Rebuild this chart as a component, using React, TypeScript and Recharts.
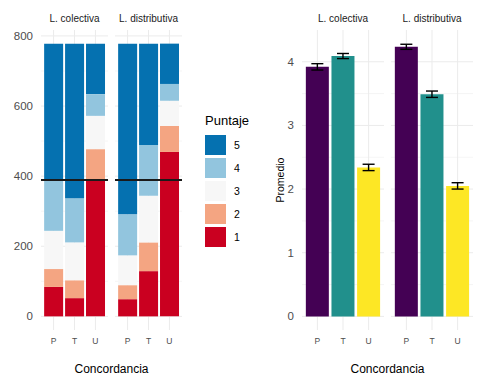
import React from 'react'
import { BarChart, Bar, XAxis, YAxis, CartesianGrid, ReferenceLine, ErrorBar, Cell } from 'recharts'

const FACETS = ['L. colectiva', 'L. distributiva']
const CATEGORIES = ['P', 'T', 'U']
const SCORES = ['1', '2', '3', '4', '5']
const SCORE_COLORS = ['#ca0020', '#f4a582', '#f7f7f7', '#92c5de', '#0571b0']

// counts per score (1..5), each as [P, T, U]
const COLECTIVA_COUNTS = [
  [84, 52, 389],
  [51, 51, 88],
  [109, 108, 95],
  [143, 126, 62],
  [391, 441, 144],
]
const DISTRIBUTIVA_COUNTS = [
  [49, 129, 469],
  [40, 82, 74],
  [85, 133, 72],
  [117, 145, 48],
  [487, 289, 115],
]
const MIDPOINT = 389

const COLECTIVA_MEAN = [3.92, 4.09, 2.34]
const COLECTIVA_ERR = [0.05, 0.04, 0.05]
const DISTRIBUTIVA_MEAN = [4.235, 3.49, 2.05]
const DISTRIBUTIVA_ERR = [0.04, 0.05, 0.05]
const MEAN_COLORS = ['#440154', '#21908c', '#fde725']

const X_TICKS = [1, 2, 3]
const X_DOMAIN = [0.4, 3.6]
const COUNT_TICKS = [0, 200, 400, 600, 800]
const COUNT_MINOR = [100, 300, 500, 700]
const MEAN_TICKS = [0, 1, 2, 3, 4]
const MEAN_MINOR = [0.5, 1.5, 2.5, 3.5]

const FONT = '"Liberation Sans", Arial, sans-serif'
const GRID = '#ebebeb'
const AXIS_TEXT = '#4d4d4d'

const countRows = (counts: number[][]) =>
  CATEGORIES.map((cat, i) => {
    const row: Record<string, number | string> = { x: X_TICKS[i], cat }
    SCORES.forEach((s, k) => (row['s' + s] = counts[k][i]))
    return row
  })

const meanRows = (means: number[], errs: number[]) =>
  CATEGORIES.map((cat, i) => ({ x: X_TICKS[i], cat, mean: means[i], err: errs[i] }))

const xAxis = (
  <XAxis
    type="number"
    dataKey="x"
    domain={X_DOMAIN}
    ticks={X_TICKS}
    interval={0}
    tickFormatter={(v: number) => CATEGORIES[v - 1]}
    axisLine={false}
    tickLine={false}
    height={54}
    tick={{ fontSize: 8.5, fill: AXIS_TEXT, fontFamily: FONT }}
  />
)

// vertical grid only at category centres, no panel edges
const centreLines = ({ offset }: any) =>
  X_TICKS.map((v) => offset.left + ((v - X_DOMAIN[0]) / (X_DOMAIN[1] - X_DOMAIN[0])) * offset.width)

function grids(minor: number[], major: number[]) {
  return [
    <CartesianGrid key="minor" vertical={false} horizontalValues={minor} stroke={GRID} strokeWidth={0.5} />,
    <CartesianGrid key="major" vertical={false} horizontalValues={major} stroke={GRID} strokeWidth={1} />,
    <CartesianGrid key="vert" horizontal={false} verticalCoordinatesGenerator={centreLines} stroke={GRID} strokeWidth={1} />,
  ]
}

function CountFacet({ counts, showAxis, width }: { counts: number[][]; showAxis: boolean; width: number }) {
  const domain = [-38.9, 816.9]
  return (
    <BarChart width={width} height={384} data={countRows(counts)} margin={{ top: 30, right: 0, bottom: 0, left: 0 }} barCategoryGap="5%">
      {grids(COUNT_MINOR, COUNT_TICKS)}
      {xAxis}
      {showAxis ? (
        <YAxis
          width={41}
          domain={domain}
          ticks={COUNT_TICKS}
          axisLine={false}
          tickLine={false}
          tick={{ fontSize: 11.5, fill: AXIS_TEXT, fontFamily: FONT }}
        />
      ) : (
        <YAxis hide domain={domain} ticks={COUNT_TICKS} />
      )}
      {SCORES.map((s, k) => (
        <Bar key={s} dataKey={'s' + s} stackId="a" fill={SCORE_COLORS[k]} isAnimationActive={false} />
      ))}
      <ReferenceLine y={MIDPOINT} stroke="#1a1a1a" strokeWidth={1.8} />
    </BarChart>
  )
}

function MeanFacet({ means, errs, showAxis, width }: { means: number[]; errs: number[]; showAxis: boolean; width: number }) {
  const domain = [-0.214, 4.499]
  return (
    <BarChart width={width} height={384} data={meanRows(means, errs)} margin={{ top: 30, right: 0, bottom: 0, left: 0 }} barCategoryGap="5%">
      {grids(MEAN_MINOR, MEAN_TICKS)}
      {xAxis}
      {showAxis ? (
        <YAxis
          width={40}
          domain={domain}
          ticks={MEAN_TICKS}
          axisLine={false}
          tickLine={false}
          tick={{ fontSize: 11.5, fill: AXIS_TEXT, fontFamily: FONT }}
        />
      ) : (
        <YAxis hide domain={domain} ticks={MEAN_TICKS} />
      )}
      <Bar dataKey="mean" isAnimationActive={false}>
        {CATEGORIES.map((c, i) => (
          <Cell key={c} fill={MEAN_COLORS[i]} />
        ))}
        <ErrorBar dataKey="err" width={6} stroke="#000" strokeWidth={1.4} />
      </Bar>
    </BarChart>
  )
}

const abs = (left: number): React.CSSProperties => ({ position: 'absolute', left, top: 0 })

export default function App() {
  return (
    <div style={{ position: 'absolute', left: 0, top: 0, width: 480, height: 384, background: '#fff', fontFamily: FONT }}>
      <div style={abs(0)}>
        <CountFacet counts={COLECTIVA_COUNTS} showAxis width={108} />
      </div>
      <div style={abs(115)}>
        <CountFacet counts={DISTRIBUTIVA_COUNTS} showAxis={false} width={67} />
      </div>
      <div style={abs(262)}>
        <MeanFacet means={COLECTIVA_MEAN} errs={COLECTIVA_ERR} showAxis width={122} />
      </div>
      <div style={abs(391)}>
        <MeanFacet means={DISTRIBUTIVA_MEAN} errs={DISTRIBUTIVA_ERR} showAxis={false} width={82} />
      </div>
      <svg width={480} height={384} style={{ position: 'absolute', left: 0, top: 0, pointerEvents: 'none' }} fontFamily={FONT}>
        <g fontSize={10} fill="#1a1a1a" textAnchor="middle">
          <text x={74.5} y={22}>{FACETS[0]}</text>
          <text x={148.5} y={22}>{FACETS[1]}</text>
          <text x={343} y={22}>{FACETS[0]}</text>
          <text x={432} y={22}>{FACETS[1]}</text>
        </g>
        <g fontSize={12} fill="#000" textAnchor="middle">
          <text x={111.5} y={373}>Concordancia</text>
          <text x={387.5} y={373}>Concordancia</text>
        </g>
        <text x={284} y={180} fontSize={10.5} textAnchor="middle" transform="rotate(-90 284 180)">
          Promedio
        </text>
        <text x={205} y={124.5} fontSize={13}>Puntaje</text>
        {SCORES.slice().reverse().map((s, i) => {
          const k = SCORES.length - 1 - i
          const y = 135 + i * 23
          return (
            <g key={s}>
              <rect x={205} y={y} width={21} height={20} fill={SCORE_COLORS[k]} />
              <text x={234} y={y + 14} fontSize={10.5} fill="#000">{s}</text>
            </g>
          )
        })}
      </svg>
    </div>
  )
}
